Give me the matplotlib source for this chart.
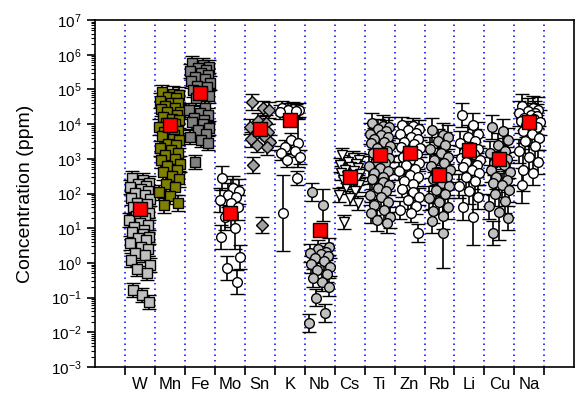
import numpy as np
import matplotlib.pyplot as plt
from matplotlib.ticker import LogLocator, NullFormatter, FixedLocator

plt.rcParams['font.family'] = ['Liberation Sans', 'DejaVu Sans']
plt.rcParams['mathtext.default'] = 'regular'

# element names along the x axis
elements = ["W", "Mn", "Fe", "Mo", "Sn", "K", "Nb", "Cs", "Ti", "Zn", "Rb", "Li", "Cu", "Na"]

# individual analyses, log10 of concentration in ppm
W_log = [2.45, 2.39, 2.30, 2.27, 2.21, 2.19, 2.12, 2.06, 2.01, 1.95, 1.88, 1.83, 1.74, 1.70,
         1.62, 1.49, 1.44, 1.35, 1.29, 1.24, 1.16, 1.09, 1.05, 0.96, 0.89, 0.84, 0.75, 0.71,
         0.66, 0.58, 0.46, 0.41, 0.29, 0.22, 0.08, -0.06, -0.17, -0.29, -0.78, -0.93, -1.13]
Mn_log = [4.92, 4.88, 4.84, 4.77, 4.75, 4.68, 4.62, 4.61, 4.53, 4.47, 4.45, 4.36, 4.34, 4.27,
          4.22, 4.15, 4.12, 4.04, 4.01, 3.92, 3.89, 3.81, 3.78, 3.69, 3.66, 3.57, 3.53, 3.44,
          3.41, 3.30, 3.25, 3.17, 3.11, 3.01, 2.96, 2.85, 2.79, 2.68, 2.61, 2.50, 2.42, 2.28,
          2.19, 2.04, 1.93, 1.73, 1.66]
Fe_log = [5.76, 5.71, 5.66, 5.61, 5.56, 5.53, 5.46, 5.43, 5.35, 5.31, 5.23, 5.18, 5.11, 5.06,
          4.97, 4.91, 4.81, 4.74, 4.47, 4.41, 4.32, 4.27, 4.19, 4.13, 4.05, 3.99, 3.89, 3.83,
          3.73, 3.64, 3.54, 3.46, 2.91]
Mo_log = [2.45, 2.16, 2.06, 1.96, 1.90, 1.81, 1.73, 1.60, 1.31, 1.00, 0.75, 0.17, -0.15, -0.55]
Sn_log = [4.64, 4.46, 4.41, 4.10, 4.03, 3.93, 3.86, 3.77, 3.69, 3.62, 3.56, 3.48, 3.41, 3.34,
          2.82, 1.09]
K_log = [4.46, 4.44, 4.41, 4.40, 4.37, 4.35, 3.54, 3.46, 3.35, 3.24, 3.17, 3.05, 2.97, 2.45, 1.44]
Nb_log = [2.04, 1.67, 0.47, 0.41, 0.33, 0.29, 0.25, 0.19, 0.14, 0.05, -0.04, -0.12, -0.20,
          -0.31, -0.43, -0.56, -0.69, -1.00, -1.44, -1.73]
Cs_log = [3.12, 3.03, 2.96, 2.92, 2.86, 2.83, 2.77, 2.74, 2.68, 2.65, 2.59, 2.57, 2.50, 2.46,
          2.39, 2.34, 2.24, 2.19, 2.07, 1.97, 1.86, 1.74, 1.17]
Ti_log = [4.03, 3.96, 3.91, 3.85, 3.81, 3.73, 3.70, 3.62, 3.58, 3.49, 3.45, 3.37, 3.31, 3.23,
          3.18, 3.09, 3.03, 2.95, 2.89, 2.79, 2.74, 2.64, 2.59, 2.49, 2.43, 2.32, 2.26, 2.15,
          2.08, 1.97, 1.89, 1.77, 1.67, 1.54, 1.45, 1.31, 1.23, 1.15]
Zn_log = [3.97, 3.94, 3.87, 3.83, 3.75, 3.71, 3.62, 3.58, 3.49, 3.44, 3.35, 3.30, 3.21, 3.15,
          3.05, 2.99, 2.89, 2.82, 2.72, 2.65, 2.54, 2.47, 2.35, 2.27, 2.14, 2.05, 1.91, 1.81,
          1.65, 1.53, 1.44, 0.86]
Rb_log = [3.83, 3.69, 3.63, 3.51, 3.41, 3.27, 3.16, 3.04, 2.97, 2.87, 2.80, 2.69, 2.61, 2.49,
          2.41, 2.29, 2.21, 2.09, 2.00, 1.87, 1.77, 1.62, 1.51, 1.34, 1.21, 0.86]
Li_log = [4.26, 3.97, 3.72, 3.63, 3.51, 3.45, 3.35, 3.29, 3.19, 3.13, 3.03, 2.97, 2.91, 2.83,
          2.77, 2.67, 2.59, 2.47, 2.37, 2.21, 2.06, 1.90, 1.60, 1.32]
Cu_log = [3.92, 3.81, 3.54, 3.39, 3.24, 3.16, 3.05, 2.99, 2.89, 2.81, 2.69, 2.61, 2.49, 2.39,
          2.30, 2.24, 2.11, 1.99, 1.79, 1.63, 1.47, 1.29, 0.86]
Na_log = [4.52, 4.47, 4.42, 4.39, 4.33, 4.31, 4.25, 4.23, 4.17, 4.15, 4.09, 4.05, 3.97, 3.91,
          3.81, 3.73, 3.61, 3.51, 3.37, 3.23, 3.05, 2.91, 2.68, 2.59, 2.24]

# average of each element (red squares), log10 ppm
mean_log = [1.55, 3.97, 4.90, 1.44, 3.86, 4.12, 0.94, 2.48, 3.11, 3.17, 2.53, 3.25, 3.00, 4.06]

# half length of the error bars in decades
err_dex = [0.20, 0.22, 0.20, 0.35, 0.22, 0.20, 0.25, 0.20, 0.30, 0.25, 0.35, 0.35, 0.35, 0.35]

# a few analyses with much longer error bars: (element, analysis, decades)
long_bars = [(3, 6, 0.7), (3, 9, 0.6), (5, 14, 1.1), (5, 7, 0.7), (6, 1, 0.45),
             (10, 25, 1.0), (11, 23, 0.8), (12, 20, 0.8), (13, 22, 0.6), (13, 24, 0.5)]

series = [W_log, Mn_log, Fe_log, Mo_log, Sn_log, K_log, Nb_log, Cs_log,
          Ti_log, Zn_log, Rb_log, Li_log, Cu_log, Na_log]

# marker look per element
markers = ["s", "s", "s", "o", "D", "o", "o", "v", "o", "o", "o", "o", "o", "o"]
faces = ["#c0c0c0", "#808000", "#808080", "white", "#a0a0a0", "white", "#c0c0c0", "white",
         "#c0c0c0", "white", "#c0c0c0", "white", "#c0c0c0", "white"]

# horizontal scatter of points inside a column
spread = [-0.26, 0.11, 0.30, -0.05, 0.20, -0.33, 0.04, 0.27, -0.17, 0.16, -0.29, 0.34,
          -0.10, 0.24, -0.22, 0.08, 0.31, -0.13, 0.18, -0.35, 0.00, 0.28, -0.20, 0.13]

fig, ax = plt.subplots(figsize=(5.76, 3.93), dpi=100)
fig.subplots_adjust(left=0.165, right=0.997, bottom=0.066, top=0.949)

for b in np.arange(-0.5, 13.6, 1.0):
    ax.axvline(b, color="blue", lw=1.1, ls=(0, (1, 2.6)), zorder=1)

for i, vals in enumerate(series):
    v = 10 ** np.array(vals)
    x = i + np.array([spread[k % len(spread)] for k in range(len(v))])
    d = np.full(len(v), err_dex[i])
    for e, k, dd in long_bars:
        if e == i:
            d[k] = dd
    lo = v * (1 - 10 ** -d)
    hi = v * (10 ** d - 1)
    ms = 7 if markers[i] != "D" else 6
    ax.errorbar(x, v, yerr=[lo, hi], fmt=markers[i], ms=ms, mfc=faces[i], mec="black",
                mew=1.0, ecolor="black", elinewidth=1.2, capsize=5, capthick=1.2, zorder=3)

ax.plot(np.arange(len(elements)), 10 ** np.array(mean_log), "s", ms=9.5, mfc="red",
        mec="black", mew=1.0, zorder=5)

ax.set_yscale("log")
ax.set_ylim(1e-3, 1e7)
ax.set_xlim(-1.5, 14.5)
ax.yaxis.set_major_locator(FixedLocator(10.0 ** np.arange(-3, 8)))
ax.yaxis.set_minor_locator(LogLocator(base=10, subs=np.arange(2, 10), numticks=15))
ax.yaxis.set_minor_formatter(NullFormatter())

ax.xaxis.set_major_locator(FixedLocator(np.arange(-0.5, 14.0, 1.0)))
ax.xaxis.set_major_formatter(NullFormatter())
ax.xaxis.set_minor_locator(FixedLocator(np.arange(len(elements))))
ax.set_xticklabels(elements, minor=True)
ax.tick_params(axis="x", which="minor", length=0, labelsize=12, pad=7)
ax.tick_params(axis="x", which="major", direction="out", length=6, width=1.2)
ax.tick_params(axis="y", which="major", direction="out", length=6, width=1.2, labelsize=11)
ax.tick_params(axis="y", which="minor", direction="out", length=3, width=0.8)

for s in ax.spines.values():
    s.set_linewidth(1.2)

ax.set_ylabel("Concentration (ppm)", fontsize=14, labelpad=12)

plt.savefig("out.png", dpi=100)
